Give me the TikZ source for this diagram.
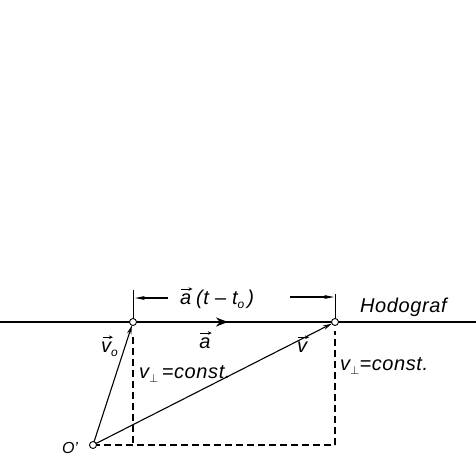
\documentclass[tikz,border=0pt]{standalone}
\usepackage{fontspec}
\setmainfont{Liberation Sans}
\usetikzlibrary{arrows.meta,calc}
\newcommand\sbx[1]{\raisebox{-4pt}{\fontsize{12}{12}\selectfont #1}}
\tikzset{
  lbl/.style={font=\fontsize{20}{22}\selectfont\itshape\addfontfeature{LetterSpace=3}, inner sep=0pt},
  vec/.style={line width=1.1pt, -{Stealth[length=9pt,width=4.5pt]}},
  dim/.style={line width=1.1pt, -{Stealth[length=10pt,width=4pt]}},
  ovarr/.style={line width=0.8pt, -{Stealth[length=4pt,width=3.5pt]}},
  dsh/.style={line width=1.5pt, dash pattern=on 7pt off 4pt},
  pt/.style={circle, draw, fill=white, line width=0.9pt, minimum size=7pt, inner sep=0pt}
}
\begin{document}
\begin{tikzpicture}[x=1pt,y=-1pt]
\useasboundingbox (0,0) rectangle (476,459);
% points
\coordinate (L0) at (0,322);
\coordinate (L1) at (476,322);
\coordinate (A) at (133,322);
\coordinate (B) at (335,322);
\coordinate (O) at (93,445);
\coordinate (C) at (335,445);
\coordinate (D) at (133,445);
\coordinate (Ad) at (133,337);
\coordinate (Bd) at (335,331);
\coordinate (At) at (133,290);
\coordinate (Bt) at (335,294);
\coordinate (Ds) at (168,298);
\coordinate (De) at (135,298);
\coordinate (Es) at (290,297);
\coordinate (Ee) at (334,297);
\coordinate (Ah) at (228,322);
% hodograph line
\draw[line width=1.3pt] (L0) -- (L1);
% dimension
\draw[line width=0.9pt] (At) -- (A);
\draw[line width=0.9pt] (Bt) -- (B);
\draw[dim] (Ds) -- (De);
\draw[dim] (Es) -- (Ee);
\node[lbl, anchor=base west] (la2) at (180,304) {a};
\node[lbl, anchor=base west] (lat) at (196,304) {(t\hspace{6pt}--\hspace{6pt}t\sbx{o}\hspace{3pt})};
% acceleration arrow
\draw[line width=2.6pt, -{Stealth[length=12pt,width=9pt]}] (A) -- (Ah);
% dashed lines
\draw[dsh] (Ad) -- (D);
\draw[dsh] (O) -- (C);
\draw[dsh] (C) -- (Bd);
% velocity vectors
\draw[vec, shorten >=3.5pt] (O) -- (A);
\draw[vec, shorten >=3.5pt] (O) -- (B);
% points drawn
\node[pt] (nA) at (A) {};
\node[pt] (nB) at (B) {};
\node[pt] (nO) at (O) {};
% labels
\node[lbl, anchor=base] (la) at (205,348) {a};
\node[lbl, anchor=base west] (lv0) at (101,352) {v\sbx{o}};
\node[lbl, anchor=base] (lv) at (302,352) {v};
\node[lbl, anchor=base west] (lc1) at (139,378) {v\sbx{$\perp$}\,=const.};
\node[lbl, anchor=base west] (lc2) at (340,370) {v\sbx{$\perp$}=const.};
\node[lbl, anchor=base west] (lh) at (360,312) {Hodograf};
\node[lbl, font=\fontsize{16}{18}\selectfont\itshape] (lo) at (70,448) {O'};
% over-arrows of the vector labels
\draw[ovarr] ($(la2.north west)+(1,-4)$) -- ($(la2.north east)+(1,-4)$);
\draw[ovarr] ($(la.north west)+(1,-4)$) -- ($(la.north east)+(1,-4)$);
\draw[ovarr] ($(lv0.north west)+(2,-4)$) -- ($(lv0.north west)+(12,-4)$);
\draw[ovarr] ($(lv.north west)+(1,-4)$) -- ($(lv.north east)+(2,-4)$);
\end{tikzpicture}
\end{document}
